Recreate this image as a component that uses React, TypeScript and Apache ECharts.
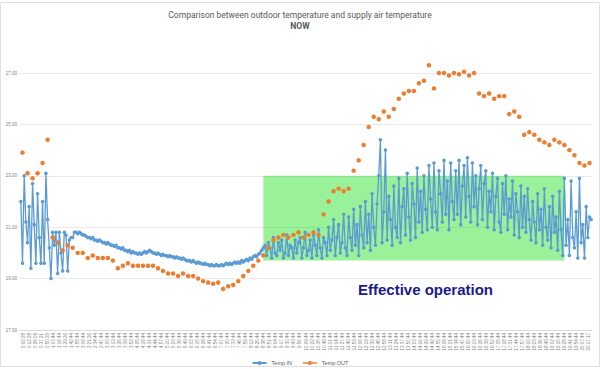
import React, { useEffect, useRef } from "react";
import * as echarts from "echarts";

const timeLabels: string[] = [
  "0:00:28", "0:12:28", "0:26:09", "0:37:21", "0:50:29", "1:03:44", "1:16:44", "1:29:26", "1:42:44", "1:55:44",
  "2:08:44", "2:21:26", "2:34:44", "2:47:44", "3:00:44", "3:13:44", "3:26:44", "3:39:44", "3:52:44", "4:05:44",
  "4:18:44", "4:31:44", "4:44:44", "4:57:44", "5:10:44", "5:23:44", "5:36:44", "5:49:44", "6:02:44", "6:15:44",
  "6:28:44", "6:41:44", "6:54:44", "7:07:44", "7:20:44", "7:33:44", "7:46:44", "7:59:44", "8:12:44", "8:25:44",
  "8:38:44", "8:51:44", "9:04:44", "9:17:44", "9:30:44", "9:43:44", "9:56:44", "10:09:44", "10:22:44", "10:35:44",
  "10:48:44", "11:01:44", "11:14:44", "11:27:44", "11:40:44", "11:53:44", "12:06:44", "12:19:44", "12:32:44", "12:45:44",
  "12:58:44", "13:11:44", "13:24:44", "13:37:44", "13:50:44", "14:03:44", "14:16:44", "14:29:44", "14:42:44", "14:55:44",
  "15:08:44", "15:21:44", "15:34:44", "15:47:44", "16:00:44", "16:13:44", "16:26:44", "16:39:44", "16:52:44", "17:05:44",
  "17:18:44", "17:31:44", "17:44:44", "17:57:44", "18:10:44", "18:23:44", "18:36:44", "18:49:44", "19:02:44", "19:15:44",
  "19:28:44", "19:41:44", "19:54:44", "20:07:44", "20:17:17",
];

// Supply air temperature (Temp IN), one value per sample
const tempIn: number[] = [
  22.0, 19.6, 23.0, 21.2, 20.4, 21.8, 19.4, 22.7, 21.1, 19.6,
  22.3, 20.6, 19.6, 22.0, 19.6, 23.1, 21.3, 20.2, 19.0, 20.8,
  20.3, 20.8, 19.2, 20.8, 20.0, 19.3, 20.8, 20.7, 19.3, 20.5,
  20.6, 20.6, 20.8, 20.8,
  20.75, 20.8, 20.75, 20.7, 20.7, 20.65,
  20.6, 20.6, 20.55, 20.6, 20.5, 20.5, 20.45, 20.5, 20.45, 20.4,
  20.4, 20.35, 20.4, 20.35, 20.3, 20.3, 20.25, 20.3, 20.2, 20.2,
  20.15, 20.2, 20.1, 20.1, 20.05, 20.1, 20.0, 20.05, 20.0, 20.0,
  19.95, 20.0, 19.95, 20.0, 20.05, 20.0, 20.05, 20.1, 20.05, 20.0,
  20.0, 19.95, 20.0, 19.95, 19.9, 19.95, 19.9, 19.9, 19.85, 19.9,
  19.85, 19.85, 19.8, 19.85, 19.8, 19.8, 19.75, 19.8, 19.75, 19.7,
  19.7, 19.7, 19.65, 19.7, 19.65, 19.6, 19.65, 19.6, 19.6, 19.55,
  19.6, 19.55, 19.55, 19.5, 19.55, 19.5, 19.5, 19.55, 19.5, 19.5,
  19.55, 19.5, 19.55, 19.6, 19.55, 19.6, 19.55, 19.6, 19.65, 19.6,
  19.65, 19.6, 19.7, 19.65, 19.7, 19.75, 19.7, 19.8, 19.75, 19.85,
  19.9, 19.85, 19.95, 20.0, 20.1, 20.2,
  20.3, 19.9, 20.4, 20.2, 19.8, 20.6, 20.0, 19.9, 20.4, 20.1,
  20.5, 19.8, 20.0, 20.7, 19.9, 20.3, 20.2, 19.8, 20.5, 20.0,
  20.4, 20.6, 19.8, 20.2, 20.8, 19.9, 20.1, 20.5, 19.8, 20.7,
  20.3, 19.9, 20.9, 20.2, 19.8, 20.6, 20.4, 19.9, 21.0, 20.1,
  20.5, 21.3, 19.9, 20.6, 21.1, 20.0, 20.4, 21.5, 20.2, 19.9,
  21.4, 20.6, 20.1, 21.7, 20.3, 21.1, 19.9, 21.8, 20.7, 20.2,
  22.0, 20.4, 21.5, 20.1, 22.3, 21.0, 20.3, 21.9, 23.0, 24.4,
  20.4, 21.6, 24.0, 20.5, 22.2, 21.3, 20.3, 22.6, 21.0, 20.6,
  22.9, 20.4, 21.8, 22.5, 20.7, 23.1, 21.4, 20.5, 22.7, 21.9,
  20.6, 23.3, 21.2, 22.4, 20.8, 23.0, 21.7, 20.9, 23.4, 22.1,
  21.0, 23.5, 21.6, 20.9, 23.2, 22.3, 21.2, 23.6, 21.5, 22.8,
  20.9, 23.5, 22.0, 21.3, 23.2, 21.5, 23.6, 21.1, 22.6, 23.4,
  21.4, 23.7, 22.2, 21.2, 23.5, 21.8, 23.0, 21.1, 22.5, 23.4,
  21.3, 22.7, 23.2, 21.0, 22.4, 21.6, 23.1, 20.9, 22.2, 22.9,
  21.2, 20.8, 22.7, 21.5, 23.0, 20.9, 22.1, 21.4, 22.8, 20.7,
  22.3, 21.6, 20.6, 22.6, 21.0, 22.2, 20.8, 22.5, 21.3, 20.5,
  22.0, 21.2, 20.4, 22.3, 20.9, 21.7, 20.3, 22.5, 21.0, 20.5,
  21.8, 20.2, 22.2, 20.8, 21.4, 20.1, 22.4, 20.9, 19.9, 22.9,
  20.3, 21.3, 19.9, 22.8, 20.6, 20.2, 21.6, 19.8, 22.9, 20.4,
  21.1, 19.8, 21.8, 20.6, 21.4, 21.3,
];

// Outdoor temperature (Temp OUT), sampled every third sample
const tempOut: number[] = [
  23.9, 23.1, 22.9, 23.1, 23.5, 24.4,
  20.6, 20.4, 20.1, 20.3, 20.2, 20.0, 20.0, 19.8, 19.9, 19.8, 19.8, 19.8, 19.7, 19.4,
  19.5, 19.6, 19.5, 19.5, 19.5, 19.5, 19.5, 19.4, 19.3, 19.2,
  19.2, 19.1, 19.2, 19.1, 19.1, 19.0, 18.9, 18.85, 18.8, 18.85,
  18.6, 18.7, 18.75, 18.9, 19.1, 19.3, 19.5, 19.7, 19.9, 20.2,
  20.5, 20.6, 20.7, 20.6, 20.7, 20.8, 20.6, 20.7, 20.8, 20.7,
  21.5, 22.0, 22.4, 22.5, 22.4, 22.5, 23.2, 23.6, 24.2, 24.9,
  25.3, 25.2, 25.5, 25.3, 25.6, 26.0, 26.2, 26.3, 26.3, 26.6,
  26.7, 27.3, 26.4, 27.0, 27.0, 26.9, 27.0, 26.95, 27.05, 26.9,
  27.0, 26.2, 26.1, 26.2, 26.0, 26.1, 26.1, 25.4, 25.5, 25.3,
  24.6, 24.7, 24.6, 24.4, 24.3, 24.2, 24.4, 24.3, 24.2, 24.0,
  23.8, 23.5, 23.4, 23.5,
];

const effectiveRange = { fromSample: 145, toSample: 325, low: 19.7, high: 23.0 };

export default function App() {
  const ref = useRef<HTMLDivElement>(null);
  useEffect(() => {
    document.body.style.margin = "0";
    const chart = echarts.init(ref.current!, null, { renderer: "svg" });
    const slots = tempIn.map((_, i) => String(i));
    const outData: (number | null)[] = tempIn.map(() => null);
    tempOut.forEach((v, k) => {
      outData[3 * k + 1] = v;
    });
    chart.setOption({
      animation: false,
      backgroundColor: "#ffffff",
      title: {
        text: "Comparison between outdoor temperature and supply air temperature",
        subtext: "NOW",
        left: "center",
        top: 5,
        itemGap: 2,
        textStyle: { fontSize: 8.5, fontWeight: "normal", color: "#595959", fontFamily: "Roboto" },
        subtextStyle: { fontSize: 8.5, fontWeight: "bold", color: "#595959", fontFamily: "Roboto" },
      },
      legend: {
        top: 355,
        left: "center",
        itemWidth: 14,
        itemHeight: 5,
        itemGap: 10,
        textStyle: { fontSize: 5.5, color: "#595959", fontFamily: "Liberation Sans" },
        data: [
          { name: "Temp IN" },
          { name: "Temp OUT", lineStyle: { width: 1.5, color: "#ed7d31", opacity: 1 } },
        ],
      },
      grid: { left: 20, right: 8, top: 73, bottom: 39 },
      xAxis: [
        {
          type: "category",
          data: timeLabels,
          boundaryGap: true,
          axisLine: { lineStyle: { color: "#d9d9d9" } },
          axisTick: { show: false },
          axisLabel: {
            interval: 0,
            rotate: 90,
            fontSize: 4.5,
            color: "#7f7f7f",
            margin: 3,
            fontFamily: "Liberation Sans",
          },
        },
        { type: "category", data: slots, show: false, boundaryGap: true },
      ],
      yAxis: {
        type: "value",
        min: 17,
        max: 27,
        interval: 2,
        axisLine: { show: false },
        axisTick: { show: false },
        axisLabel: {
          formatter: (v: number) => v.toFixed(2),
          fontSize: 4.5,
          color: "#7f7f7f",
          margin: 3,
          fontFamily: "Liberation Sans",
        },
        splitLine: { lineStyle: { color: "#e3e3e3", width: 0.8 } },
      },
      series: [
        {
          name: "Temp IN",
          type: "line",
          xAxisIndex: 1,
          data: tempIn,
          symbol: "circle",
          symbolSize: 3.5,
          showAllSymbol: true,
          clip: false,
          lineStyle: { color: "#5b9bd5", width: 1.3 },
          itemStyle: { color: "#5b9bd5" },
        },
        {
          name: "Temp OUT",
          type: "line",
          xAxisIndex: 1,
          data: outData,
          symbol: "circle",
          symbolSize: 4.5,
          showAllSymbol: true,
          clip: false,
          connectNulls: false,
          lineStyle: { width: 0, opacity: 0 },
          itemStyle: { color: "#ed7d31" },
        },
        {
          name: "effective",
          type: "line",
          xAxisIndex: 1,
          data: [],
          z: 5,
          markArea: {
            silent: true,
            itemStyle: { color: "rgba(0,220,0,0.4)" },
            data: [
              [
                { xAxis: effectiveRange.fromSample, yAxis: effectiveRange.low },
                { xAxis: effectiveRange.toSample, yAxis: effectiveRange.high },
              ],
            ],
          },
        },
      ],
      graphic: [
        {
          type: "rect",
          z: -1,
          shape: { x: 0.5, y: 2.5, width: 599, height: 364 },
          style: { fill: "none", stroke: "#e0e0e0", lineWidth: 1 },
        },
        {
          type: "text",
          left: 358,
          top: 282,
          style: {
            text: "Effective operation",
            fontSize: 15,
            fontWeight: "bold",
            fontFamily: "Liberation Sans",
            fill: "#1a1a8c",
          },
        },
      ],
    });
    return () => chart.dispose();
  }, []);
  return <div ref={ref} style={{ width: 600, height: 369 }} />;
}
